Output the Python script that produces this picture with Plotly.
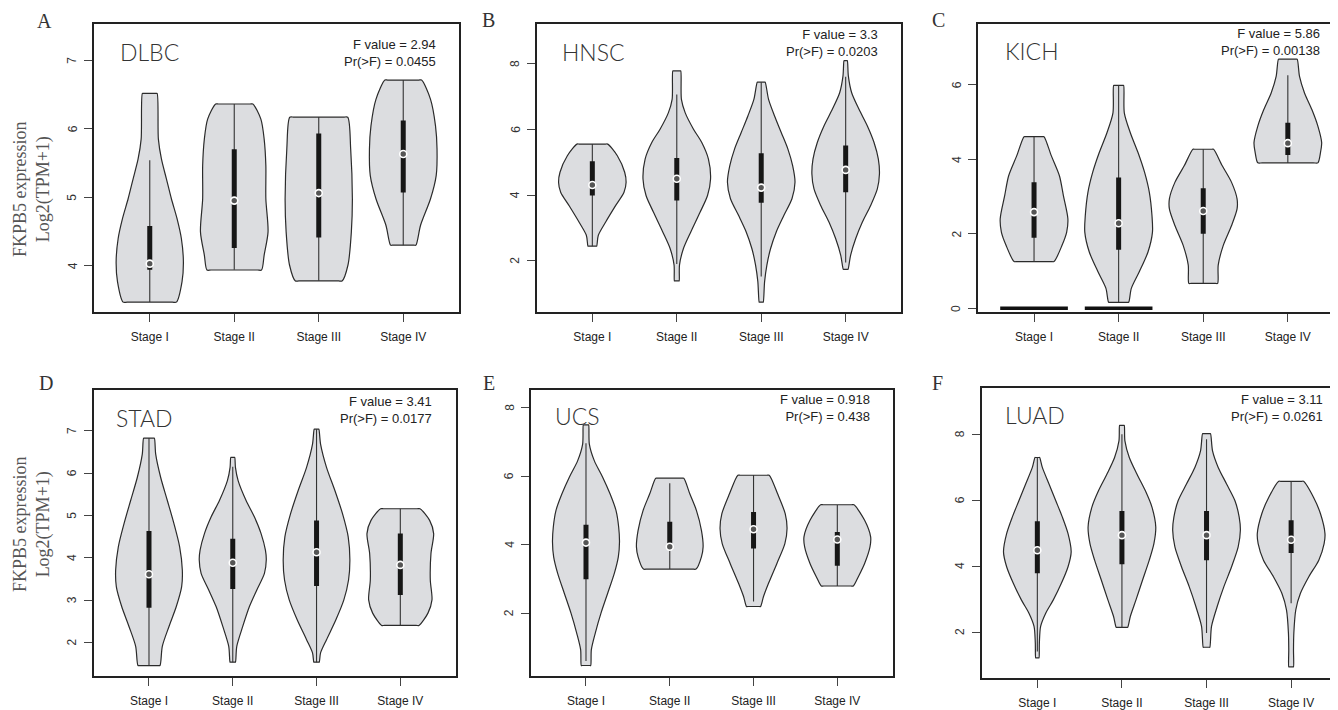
import plotly.graph_objects as go

PAGE_W, PAGE_H = 1338, 710
OFF = 8  # default page body margin
W, H = PAGE_W - OFF, PAGE_H - OFF

stages = ["Stage I", "Stage II", "Stage III", "Stage IV"]
cancers = ["DLBC", "HNSC", "KICH", "STAD", "UCS", "LUAD"]
panel_letters = ["A", "B", "C", "D", "E", "F"]
f_values = ["2.94", "3.3", "5.86", "3.41", "0.918", "3.11"]
p_values = ["0.0455", "0.0203", "0.00138", "0.0177", "0.438", "0.0261"]
y_ticks = [[4, 5, 6, 7], [2, 4, 6, 8], [0, 2, 4, 6], [2, 3, 4, 5, 6, 7], [2, 4, 6, 8], [2, 4, 6, 8]]
y_ranges = [[3.32, 7.53], [0.43, 9.22], [-0.107, 7.63], [1.2, 7.97], [0.16, 8.52], [0.6, 9.41]]

# ---- violin outlines: expression levels (top -> bottom) and half widths (category units)
dlbc_y = [[6.516, 5.848, 5.558, 5.268, 4.977, 4.687, 4.397, 4.058, 3.768, 3.468],
          [6.361, 6.139, 5.848, 5.461, 4.977, 4.494, 4.155, 3.937],
          [6.168, 5.703, 4.977, 4.494, 4.010, 3.777],
          [6.710, 6.429, 6.042, 5.703, 5.316, 4.977, 4.590, 4.300]]
dlbc_w = [[0.087, 0.102, 0.138, 0.197, 0.256, 0.323, 0.374, 0.398, 0.382, 0.315],
          [0.220, 0.315, 0.354, 0.374, 0.374, 0.400, 0.354, 0.323],
          [0.343, 0.378, 0.398, 0.386, 0.346, 0.276],
          [0.217, 0.323, 0.382, 0.400, 0.390, 0.323, 0.205, 0.150]]
dlbc_q1 = [3.94, 4.26, 4.41, 5.07]
dlbc_q3 = [4.58, 5.70, 5.93, 6.12]
dlbc_med = [4.03, 4.95, 5.06, 5.63]
dlbc_wlo = [3.47, 3.94, 3.78, 4.30]
dlbc_whi = [5.54, 6.36, 6.17, 6.71]

hnsc_y = [[5.556, 5.202, 4.697, 4.394, 4.091, 3.687, 3.182, 2.778, 2.444],
          [7.788, 6.919, 6.515, 6.010, 5.606, 5.101, 4.495, 3.990, 3.485, 2.879, 2.374, 1.869, 1.384],
          [7.444, 6.919, 6.414, 5.909, 5.404, 4.899, 4.394, 3.889, 3.384, 2.879, 2.374, 1.869, 1.364, 0.737],
          [8.101, 7.626, 7.121, 6.616, 6.111, 5.606, 5.101, 4.646, 4.192, 3.687, 3.182, 2.677, 2.172, 1.737]]
hnsc_w = [[0.182, 0.296, 0.383, 0.400, 0.375, 0.277, 0.158, 0.071, 0.051],
          [0.047, 0.055, 0.099, 0.198, 0.296, 0.375, 0.400, 0.364, 0.277, 0.166, 0.079, 0.032, 0.028],
          [0.047, 0.087, 0.158, 0.237, 0.316, 0.372, 0.400, 0.364, 0.269, 0.178, 0.111, 0.067, 0.040, 0.024],
          [0.020, 0.032, 0.071, 0.158, 0.257, 0.336, 0.387, 0.400, 0.375, 0.296, 0.198, 0.119, 0.059, 0.028]]
hnsc_q1 = [3.99, 3.84, 3.77, 4.09]
hnsc_q3 = [5.03, 5.13, 5.28, 5.51]
hnsc_med = [4.31, 4.50, 4.23, 4.77]
hnsc_wlo = [2.44, 1.90, 1.52, 1.95]
hnsc_whi = [5.56, 7.07, 7.44, 7.61]

kich_y = [[4.604, 4.089, 3.556, 3.022, 2.400, 2.044, 1.689, 1.253],
          [5.982, 5.244, 4.711, 4.178, 3.644, 3.111, 2.489, 2.044, 1.511, 0.978, 0.533, 0.160],
          [4.267, 3.822, 3.378, 2.933, 2.667, 2.222, 1.689, 1.156, 0.667],
          [6.684, 6.222, 5.778, 5.333, 4.889, 4.444, 4.178, 3.902]]
kich_w = [[0.118, 0.205, 0.300, 0.347, 0.400, 0.386, 0.331, 0.236],
          [0.059, 0.067, 0.138, 0.229, 0.307, 0.363, 0.394, 0.400, 0.347, 0.244, 0.150, 0.118],
          [0.122, 0.225, 0.335, 0.400, 0.400, 0.335, 0.237, 0.177, 0.170],
          [0.110, 0.138, 0.197, 0.284, 0.355, 0.400, 0.386, 0.355]]
kich_q1 = [1.89, 1.57, 2.00, 4.11]
kich_q3 = [3.38, 3.51, 3.22, 4.98]
kich_med = [2.58, 2.28, 2.61, 4.43]
kich_wlo = [1.25, 0.16, 0.67, 3.90]
kich_whi = [4.60, 5.98, 4.27, 6.25]
kich_zero_stages = [1, 2]
kich_zero_value = 0

stad_y = [[6.828, 6.451, 5.903, 5.354, 4.806, 4.257, 3.708, 3.317, 2.846, 2.376, 1.906, 1.451],
          [6.373, 6.138, 5.824, 5.354, 4.962, 4.571, 4.179, 3.944, 3.630, 3.238, 2.846, 2.376, 1.906, 1.530],
          [7.039, 6.687, 6.138, 5.589, 5.041, 4.492, 3.944, 3.473, 3.003, 2.533, 2.063, 1.749, 1.530],
          [5.158, 4.884, 4.571, 4.100, 3.473, 3.003, 2.690, 2.400]]
stad_w = [[0.064, 0.080, 0.139, 0.219, 0.298, 0.366, 0.398, 0.390, 0.326, 0.239, 0.159, 0.131],
          [0.024, 0.032, 0.064, 0.159, 0.259, 0.338, 0.390, 0.400, 0.378, 0.287, 0.199, 0.119, 0.048, 0.032],
          [0.028, 0.048, 0.119, 0.219, 0.310, 0.378, 0.398, 0.382, 0.326, 0.231, 0.119, 0.048, 0.032],
          [0.235, 0.350, 0.398, 0.366, 0.358, 0.378, 0.330, 0.223]]
stad_q1 = [2.82, 3.26, 3.33, 3.12]
stad_q3 = [4.63, 4.45, 4.88, 4.57]
stad_med = [3.61, 3.88, 4.13, 3.83]
stad_wlo = [1.45, 1.53, 1.53, 2.40]
stad_whi = [6.83, 6.15, 7.04, 5.16]

ucs_y = [[7.497, 6.935, 6.452, 5.968, 5.484, 5.000, 4.516, 4.081, 3.645, 3.161, 2.581, 2.000, 1.419, 0.935, 0.471],
         [5.939, 5.484, 5.000, 4.419, 3.935, 3.645, 3.287],
         [6.026, 5.484, 4.903, 4.468, 4.032, 3.452, 2.871, 2.484, 2.194],
         [5.164, 4.710, 4.226, 3.935, 3.452, 3.065, 2.793]]
ucs_w = [[0.032, 0.040, 0.099, 0.199, 0.287, 0.358, 0.390, 0.400, 0.386, 0.338, 0.259, 0.179, 0.111, 0.064, 0.056],
         [0.167, 0.239, 0.318, 0.378, 0.398, 0.378, 0.314],
         [0.187, 0.287, 0.378, 0.400, 0.374, 0.279, 0.179, 0.119, 0.084],
         [0.199, 0.326, 0.398, 0.390, 0.326, 0.251, 0.191]]
ucs_q1 = [2.99, 4.03, 3.89, 3.38]
ucs_q3 = [4.58, 4.67, 4.95, 4.37]
ucs_med = [4.06, 3.94, 4.45, 4.15]
ucs_wlo = [0.60, 3.29, 2.34, 2.79]
ucs_whi = [6.96, 5.79, 6.03, 5.16]

luad_y = [[7.296, 6.995, 6.492, 5.990, 5.487, 4.985, 4.432, 3.980, 3.477, 2.975, 2.573, 2.171, 1.668, 1.216],
          [8.271, 7.799, 7.296, 6.794, 6.291, 5.789, 5.186, 4.683, 4.181, 3.578, 2.975, 2.472, 2.141],
          [8.020, 7.497, 6.995, 6.492, 5.990, 5.487, 5.085, 4.583, 3.980, 3.377, 2.774, 2.171, 1.538],
          [6.573, 6.090, 5.588, 4.985, 4.683, 4.181, 3.678, 3.176, 2.673, 1.970, 1.467, 0.945]]
luad_w = [[0.028, 0.059, 0.138, 0.217, 0.296, 0.363, 0.400, 0.363, 0.284, 0.189, 0.099, 0.039, 0.024, 0.020],
          [0.028, 0.035, 0.087, 0.177, 0.276, 0.355, 0.400, 0.378, 0.323, 0.244, 0.166, 0.099, 0.067],
          [0.047, 0.071, 0.138, 0.237, 0.335, 0.386, 0.400, 0.374, 0.296, 0.205, 0.126, 0.059, 0.039],
          [0.146, 0.264, 0.347, 0.400, 0.390, 0.327, 0.209, 0.110, 0.055, 0.032, 0.028, 0.028]]
luad_q1 = [3.78, 4.06, 4.18, 4.40]
luad_q3 = [5.36, 5.67, 5.67, 5.39]
luad_med = [4.48, 4.94, 4.94, 4.80]
luad_wlo = [1.41, 2.14, 1.97, 2.87]
luad_whi = [7.30, 8.00, 7.85, 6.57]

panels = [
    (dlbc_y, dlbc_w, dlbc_q1, dlbc_q3, dlbc_med, dlbc_wlo, dlbc_whi),
    (hnsc_y, hnsc_w, hnsc_q1, hnsc_q3, hnsc_med, hnsc_wlo, hnsc_whi),
    (kich_y, kich_w, kich_q1, kich_q3, kich_med, kich_wlo, kich_whi),
    (stad_y, stad_w, stad_q1, stad_q3, stad_med, stad_wlo, stad_whi),
    (ucs_y, ucs_w, ucs_q1, ucs_q3, ucs_med, ucs_wlo, ucs_whi),
    (luad_y, luad_w, luad_q1, luad_q3, luad_med, luad_wlo, luad_whi),
]

# ---- layout geometry (page pixels)
boxes = [  # x0, x1, y0(top), y1(bottom)
    (94, 459, 24, 314),
    (536.6, 901.4, 24, 314),
    (978.2, 1338, 24, 314),
    (93.7, 455.6, 392, 680),
    (530.7, 892.6, 392, 680),
    (981.5, 1338, 390, 682),
]
x_ranges = [[0.34, 4.66], [0.34, 4.66], [0.34, 4.593], [0.34, 4.66], [0.34, 4.66], [0.34, 4.554]]
letter_pos = [(44, 21), (488.5, 20), (938.5, 20), (45.5, 385.5), (489, 385), (937.5, 385)]
name_pos = [(118, 52), (560, 52), (1003, 51), (114, 420), (553, 418), (1003, 417)]
stat_pos = [(438, 53.5), (880, 43.5), (1322, 42.5), (434, 412.5), (872, 410.5), (1325, 410.5)]


def px(x):
    return (x - OFF) / W


def py(y):
    return 1 - (y - OFF) / H


FILL = "#dcdde0"
EDGE = "#2b2b2b"
TXT = "Liberation Sans, Arial, sans-serif"
fig = go.Figure()
annotations = []

for k, (vy, vw, q1, q3, med, wlo, whi) in enumerate(panels):
    sfx = "" if k == 0 else str(k + 1)
    xa, ya = "x" + sfx, "y" + sfx
    for i in range(4):
        c = i + 1
        ys, ws = vy[i], vw[i]
        top, bot, wt, wb = ys[0], ys[-1], ws[0], ws[-1]
        # closed outline: flat top -> right side -> flat bottom -> left side -> flat top
        xs = [c, c + 0.85 * wt] + [c + w for w in ws] + [c + 0.85 * wb, c, c - 0.85 * wb] \
            + [c - w for w in ws[::-1]] + [c - 0.85 * wt, c]
        yy = [top, top] + list(ys) + [bot, bot, bot] + list(ys[::-1]) + [top, top]
        fig.add_trace(go.Scatter(x=xs, y=yy, mode="lines", fill="toself", fillcolor=FILL,
                                 line=dict(color=EDGE, width=1.2, shape="spline", smoothing=0.8),
                                 xaxis=xa, yaxis=ya, hoverinfo="skip", showlegend=False))
        fig.add_trace(go.Scatter(x=[c, c], y=[wlo[i], whi[i]], mode="lines",
                                 line=dict(color="#333333", width=1.1),
                                 xaxis=xa, yaxis=ya, hoverinfo="skip", showlegend=False))
        fig.add_trace(go.Scatter(x=[c, c], y=[q1[i], q3[i]], mode="lines",
                                 line=dict(color="#161616", width=5),
                                 xaxis=xa, yaxis=ya, hoverinfo="skip", showlegend=False))
        fig.add_trace(go.Scatter(x=[c], y=[med[i]], mode="markers",
                                 marker=dict(symbol="circle", size=7, color="#555555",
                                             line=dict(color="white", width=1.6)),
                                 xaxis=xa, yaxis=ya, hoverinfo="skip", showlegend=False))
    if cancers[k] == "KICH":
        for s in kich_zero_stages:
            fig.add_trace(go.Scatter(x=[s - 0.4, s + 0.4], y=[kich_zero_value, kich_zero_value],
                                     mode="lines", line=dict(color="#111111", width=3.5),
                                     xaxis=xa, yaxis=ya, hoverinfo="skip", showlegend=False))

    x0, x1, y0, y1 = boxes[k]
    cut = x1 >= PAGE_W
    axis_common = dict(showgrid=False, zeroline=False, showline=True, linewidth=2,
                       linecolor="#222222", ticks="outside", ticklen=8, tickwidth=1,
                       tickcolor="#444444", fixedrange=True)
    fig.layout["xaxis" + sfx] = dict(
        domain=[px(x0), min(1, px(x1))], range=x_ranges[k], anchor=ya,
        tickvals=[1, 2, 3, 4], ticktext=stages, mirror=True,
        tickfont=dict(family=TXT, size=12, color="#222222"),
        ticklabelstandoff=4, **axis_common)
    fig.layout["yaxis" + sfx] = dict(
        domain=[py(y1), py(y0)], range=y_ranges[k], anchor=xa,
        tickvals=y_ticks[k], showticklabels=False, mirror=not cut, **axis_common)

    # y tick labels, rotated like R's default axis labels
    for t in y_ticks[k]:
        annotations.append(dict(x=px(x0 - 21.5), y=t, xref="paper", yref=ya, text=str(t),
                                textangle=-90, showarrow=False, xanchor="center", yanchor="middle",
                                font=dict(family=TXT, size=12, color="#333333")))

    lx, ly = letter_pos[k]
    annotations.append(dict(x=px(lx), y=py(ly), xref="paper", yref="paper", text=panel_letters[k],
                            showarrow=False, xanchor="center", yanchor="middle",
                            font=dict(family="Liberation Serif, Times New Roman, serif", size=20,
                                      color="#333333")))
    nx, ny = name_pos[k]
    annotations.append(dict(x=px(nx), y=py(ny), xref="paper", yref="paper", text=cancers[k],
                            showarrow=False, xanchor="left", yanchor="middle",
                            font=dict(family="Lato", size=23, color="#333333", weight=300)))
    sx, sy = stat_pos[k]
    annotations.append(dict(x=px(sx), y=py(sy), xref="paper", yref="paper",
                            text=f"F value = {f_values[k]}<br>Pr(>F) = {p_values[k]}",
                            showarrow=False, xanchor="right", yanchor="middle", align="right",
                            font=dict(family=TXT, size=13, color="#222222")))

for yc in (190, 527):
    annotations.append(dict(x=px(32), y=py(yc), xref="paper", yref="paper",
                            text="FKPB5 expression<br>Log2(TPM+1)", textangle=-90,
                            showarrow=False, xanchor="center", yanchor="middle",
                            font=dict(family="Liberation Serif, Times New Roman, serif", size=18,
                                      color="#555555")))

fig.update_layout(width=W, height=H, margin=dict(l=0, r=0, t=0, b=0),
                  paper_bgcolor="white", plot_bgcolor="white",
                  annotations=annotations, showlegend=False)

fig.write_html("out.html")
